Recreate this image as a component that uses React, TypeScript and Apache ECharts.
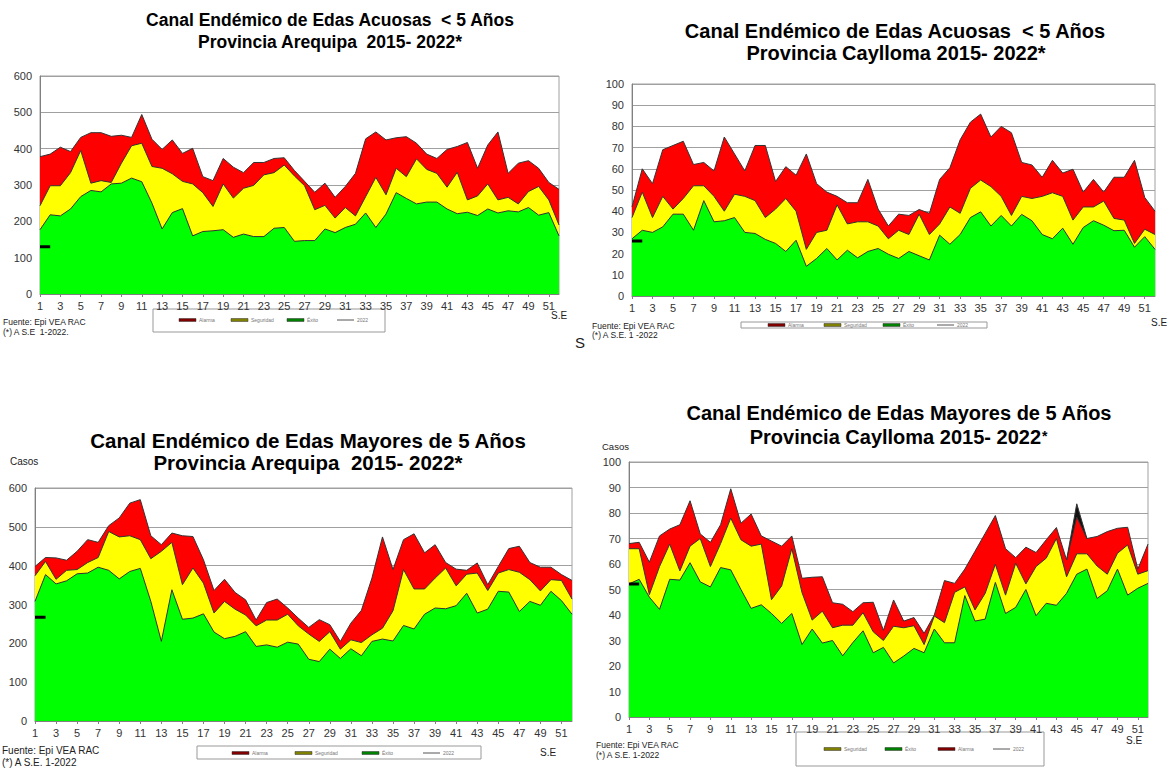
import React, { useEffect, useRef } from 'react';
import * as echarts from 'echarts';

const semanas = ['1','2','3','4','5','6','7','8','9','10','11','12','13','14','15','16','17','18','19','20','21','22','23','24','25','26','27','28','29','30','31','32','33','34','35','36','37','38','39','40','41','42','43','44','45','46','47','48','49','50','51','52'];

// Panel 1: Edas Acuosas < 5 años, Arequipa
const alarma1 = [378,385,404,392,431,444,444,434,437,431,494,426,398,424,387,401,323,312,373,349,334,362,362,373,375,340,310,280,305,266,296,332,427,446,424,430,433,415,385,373,398,406,417,346,410,446,332,360,367,346,307,288];
const seguridad1 = [243,298,298,334,395,305,312,307,360,408,415,351,346,331,310,303,279,241,303,264,291,299,328,334,355,325,298,232,244,209,238,215,268,321,273,346,323,372,343,332,294,335,259,270,303,259,266,248,282,296,259,190];
const exito1 = [177,218,215,234,268,285,281,303,305,319,309,250,179,224,235,160,172,174,177,156,165,158,158,181,183,145,147,147,179,169,183,192,223,183,220,279,263,248,253,253,234,221,225,216,234,223,229,226,238,217,224,160];
const casos2022_1 = [130,130];

// Panel 2: Edas Acuosas < 5 años, Caylloma
const alarma2 = [42,60,53,69,71,73,62,63,59,75,67,59,71,71,54,61,57,67,53,49,47,44,44,55,41,33,38.6,38,40.8,39,55,60.5,73.7,82,85.8,75,80,77,63,61.8,56,64,58,59.8,49,55,49,56,56,64,46.5,40];
const seguridad2 = [37,49,37,47,41,46,52,52,47,40,48,47,45,37,41,46,40,22,30,31,43,34,35,35,33,27,31,29,38.6,29,34,42,39,50.8,54.7,51.6,47,38,47,46,47,48.7,47,35.8,42,42,44.8,36.6,35.8,24.8,31.5,29];
const exito2 = [27,31,30,32.6,38.6,38.6,31,45,35,35.5,37,30,29.5,26.7,24.8,21,26.3,14,17.7,22.4,17,21.6,18,21,22.4,19.7,17.7,21,19,17,28.7,24.4,29,37,39.7,33,38,33,38.5,35.5,29,27,32,24.4,32.3,35.5,33.4,30.8,31,23,28,22];
const casos2022_2 = [26,26];

// Panel 3: Edas > 5 años, Arequipa
const alarma3 = [398,421,420,414,437,467,460,503,523,561,570,477,454,484,477,475,415,336,365,331,312,260,305,314,291,265,241,261,248,205,252,285,368,474,390,467,482,433,454,408,391,388,407,351,398,444,450,408,396,396,377,362];
const seguridad3 = [374,411,365,388,390,408,421,488,474,477,467,418,437,460,351,394,355,278,308,288,273,245,260,260,275,245,224,205,230,185,209,202,222,239,284,390,340,340,368,394,348,378,381,336,381,390,383,364,335,364,362,314];
const exito3 = [308,377,353,361,379,381,396,388,366,385,393,308,205,338,262,265,276,229,212,218,230,192,196,190,203,198,159,153,185,161,186,168,205,211,206,246,237,275,291,289,297,329,278,288,334,332,282,308,298,334,310,275];
const casos2022_3 = [267,267];

// Panel 4: Edas > 5 años, Caylloma
const alarma4 = [68,68.5,60.7,71,73.7,75.4,84.8,71.8,68.5,75.4,89.5,76,79.6,71,69,67,71,54.4,54.8,55,44.8,44.2,41.3,44.8,45,34,45.9,37.6,39,32.8,40,53.5,52.4,58,65,72,79,66,62.5,66.6,64.5,69.5,74.3,61.6,78.4,70,70.8,72.7,74,74.4,58,67.8];
const seguridad4 = [66,66,48,59,67.8,57.3,67,70,59,68,78,69.5,67,67.8,46,51.4,66,48.8,38,41.5,35,36,36,40.9,33.4,30,35.6,35,35.8,28.4,39.6,37,48.9,51,42,48.5,59.9,47.8,60.3,52.2,59,62.3,70,55,64,64,59.2,56,64.2,67.5,56,57.4];
const exito4 = [52.2,54,47,42.2,54,53.7,60.5,53,51,58.6,57.7,50,42.6,44,40.6,36.7,40.6,28.4,34.5,29,30,24,29.2,33.8,25.2,27.3,21.2,23.9,26.9,25.2,34.5,29.1,29.1,47.6,37.6,38.4,52.8,40.6,43,50,39.7,44.6,43.8,48.5,56,58,46.5,49.5,58,47.8,50.5,52.4];
const pico4 = [null,null,null,null,null,null,null,null,null,null,null,null,null,null,null,null,null,null,null,null,null,null,null,null,null,null,null,null,null,null,null,null,null,null,null,null,null,null,null,null,null,null,null,61.6,83.6,70];
const casos2022_4 = [52.2,52.2];

const FONT = '"Liberation Sans", Arial, sans-serif';

const panels = [
  { grid: { left: 40, top: 76, width: 519, height: 218 }, max: 600, interval: 100, alarma: alarma1, seguridad: seguridad1, exito: exito1, linea: casos2022_1, pico: null as any },
  { grid: { left: 632, top: 84, width: 523, height: 212 }, max: 100, interval: 10, alarma: alarma2, seguridad: seguridad2, exito: exito2, linea: casos2022_2, pico: null as any },
  { grid: { left: 35, top: 488, width: 537, height: 233 }, max: 600, interval: 100, alarma: alarma3, seguridad: seguridad3, exito: exito3, linea: casos2022_3, pico: null as any },
  { grid: { left: 629, top: 462, width: 519, height: 255 }, max: 100, interval: 10, alarma: alarma4, seguridad: seguridad4, exito: exito4, linea: casos2022_4, pico: pico4 },
];

function txt(text: string, x: number, y: number, size: number, opts: any = {}) {
  return {
    type: 'text',
    x, y,
    silent: true,
    style: {
      text,
      fontSize: size,
      fontFamily: FONT,
      fontWeight: opts.bold ? 'bold' : 'normal',
      fill: opts.color || '#000',
      align: opts.align || 'left',
      verticalAlign: opts.valign || 'middle',
    },
  };
}

const legendColors: Record<string, string> = { Alarma: '#800000', Seguridad: '#808000', 'Éxito': '#008000', '2022': '#444' };

function legendBox(x0: number, y0: number, x1: number, y1: number, items: [string, number][], iy: number) {
  const children: any[] = [
    { type: 'rect', shape: { x: x0, y: y0, width: x1 - x0, height: y1 - y0 }, style: { fill: '#fff', stroke: '#999', lineWidth: 1 }, silent: true },
  ];
  items.forEach(([name, lx]) => {
    if (name === '2022') {
      children.push({ type: 'line', shape: { x1: lx, y1: iy, x2: lx + 17, y2: iy }, style: { stroke: '#555', lineWidth: 1 }, silent: true });
    } else {
      children.push({ type: 'rect', shape: { x: lx, y: iy - 1.5, width: 17, height: 3 }, style: { fill: legendColors[name], stroke: '#333', lineWidth: 0.5 }, silent: true });
    }
    children.push(txt(name, lx + 20, iy, 5, { color: '#777' }));
  });
  return { type: 'group', children };
}

export default function App() {
  const ref = useRef<HTMLDivElement>(null);
  useEffect(() => {
    document.body.style.margin = '0';
    const chart = echarts.init(ref.current as HTMLDivElement, null, { renderer: 'svg' });

    const grid = panels.map((p) => ({ ...p.grid, show: true, borderColor: '#a0a0a0', borderWidth: 1, backgroundColor: '#fff', containLabel: false }));
    const xAxis = panels.map((p, i) => ({
      type: 'category', gridIndex: i, data: semanas, boundaryGap: false,
      axisLine: { lineStyle: { color: '#808080' } },
      axisTick: { show: true, length: 3, lineStyle: { color: '#808080' } },
      axisLabel: { interval: 1, fontSize: 11, color: '#333', margin: 6, fontFamily: FONT },
      splitLine: { show: false },
    }));
    const yAxis = panels.map((p, i) => ({
      type: 'value', gridIndex: i, min: 0, max: p.max, interval: p.interval,
      axisLine: { show: true, lineStyle: { color: '#808080' } },
      axisTick: { show: false },
      axisLabel: { fontSize: 11, color: '#333', margin: 8, fontFamily: FONT },
      splitLine: { show: true, lineStyle: { color: '#a0a0a0', width: 1 } },
    }));
    const series: any[] = [];
    panels.forEach((p, i) => {
      const base = { type: 'line', xAxisIndex: i, yAxisIndex: i, symbol: 'none', showSymbol: false, silent: true, lineStyle: { color: '#333', width: 1 } };
      if (p.pico) {
        series.push({ ...base, name: 'Pico', data: p.pico, areaStyle: { color: '#111', opacity: 1 } });
      }
      series.push({ ...base, name: 'Alarma', data: p.alarma, areaStyle: { color: '#ff0000', opacity: 1 } });
      series.push({ ...base, name: 'Seguridad', data: p.seguridad, areaStyle: { color: '#ffff00', opacity: 1 } });
      series.push({ ...base, name: 'Éxito', data: p.exito, areaStyle: { color: '#00ff00', opacity: 1 } });
      series.push({ ...base, name: '2022', data: p.linea, lineStyle: { color: '#000', width: 3 } });
    });

    const graphic: any[] = [
      // Titles
      txt('Canal Endémico de Edas Acuosas  < 5 Años', 330, 20, 17.5, { bold: true, align: 'center' }),
      txt('Provincia Arequipa  2015- 2022*', 330, 42, 17.5, { bold: true, align: 'center' }),
      txt('Canal Endémico de Edas Acuosas  < 5 Años', 895, 31, 20, { bold: true, align: 'center' }),
      txt('Provincia Caylloma 2015- 2022*', 896, 53, 20, { bold: true, align: 'center' }),
      txt('Canal Endémico de Edas Mayores de 5 Años', 308, 440, 20.5, { bold: true, align: 'center' }),
      txt('Provincia Arequipa  2015- 2022*', 308, 462, 20.5, { bold: true, align: 'center' }),
      txt('Canal Endémico de Edas Mayores de 5 Años', 899, 413, 20, { bold: true, align: 'center' }),
      txt('Provincia Caylloma 2015- 2022', 1041, 437, 20, { bold: true, align: 'right' }),
      txt('*', 1042, 436, 14, { bold: true }),
      // Casos
      txt('Casos', 10, 461, 10, { color: '#222' }),
      txt('Casos', 602, 446, 9.5, { color: '#222' }),
      // S.E
      txt('S.E', 551, 315, 10, { color: '#222' }),
      txt('S.E', 1151, 322, 10, { color: '#222' }),
      txt('S.E', 540, 752, 10, { color: '#222' }),
      txt('S.E', 1126, 740, 10, { color: '#222' }),
      // Footers
      txt('Fuente: Epi VEA RAC', 3, 322, 8.5, { color: '#222' }),
      txt('(*) A S.E  1-2022.', 3, 332, 8.5, { color: '#222' }),
      txt('Fuente: Epi VEA RAC', 592, 326, 8.5, { color: '#222' }),
      txt('(*) A S.E. 1 -2022', 592, 335, 8.5, { color: '#222' }),
      txt('Fuente: Epi VEA RAC', 2, 750, 10, { color: '#222' }),
      txt('(*) A S.E. 1-2022', 2, 762, 10, { color: '#222' }),
      txt('Fuente: Epi VEA RAC', 596, 745, 8.5, { color: '#222' }),
      txt('(*) A S.E. 1-2022', 596, 755, 8.5, { color: '#222' }),
      // stray S
      txt('S', 575, 342, 15, { color: '#222' }),
      // Legends
      legendBox(153, 309, 385, 332, [['Alarma', 179], ['Seguridad', 231], ['Éxito', 287], ['2022', 337]], 320),
      legendBox(741, 322, 987, 328, [['Alarma', 768], ['Seguridad', 824], ['Éxito', 883], ['2022', 937]], 325),
      legendBox(197, 746, 481, 759, [['Alarma', 232], ['Seguridad', 295], ['Éxito', 362], ['2022', 423]], 753),
      legendBox(796, 732, 1044, 766, [['Seguridad', 824], ['Éxito', 885], ['Alarma', 938], ['2022', 993]], 749),
    ];

    chart.setOption({
      animation: false,
      backgroundColor: '#fff',
      grid, xAxis, yAxis, series, graphic,
    });
    return () => chart.dispose();
  }, []);
  return <div ref={ref} style={{ width: 1167, height: 769, position: 'absolute', left: 0, top: 0 }} />;
}
